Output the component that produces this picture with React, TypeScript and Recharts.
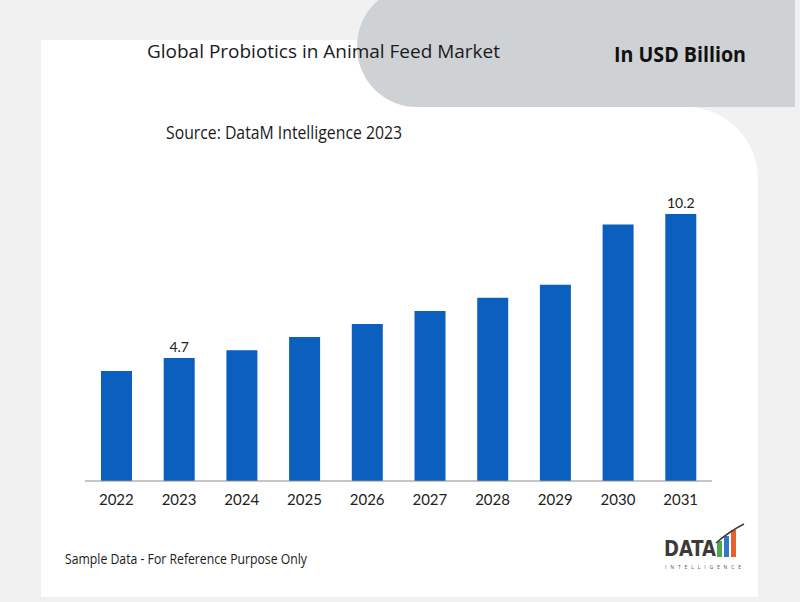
// Global Probiotics in Animal Feed Market: bar chart on a card with a
// grey pill header, recreated with Recharts.
import { Bar, BarChart, LabelList, XAxis, YAxis } from "recharts";

const years = ["2022", "2023", "2024", "2025", "2026", "2027", "2028", "2029", "2030", "2031"];
const values = [4.2, 4.7, 5.0, 5.5, 6.0, 6.5, 7.0, 7.5, 9.8, 10.2];
const labelled = ["2023", "2031"];

const BLUE = "#0B5FBF";
const BG = "#F1F1F1";
const PILL = "#CFD2D5";
const TICK_FONT = "Lato, 'Noto Sans', sans-serif";
const TEXT_FONT = "'Open Sans', 'Noto Sans', sans-serif";

const rows = years.map((year, i) => ({ year, value: values[i] }));

// only a couple of bars carry a value label
function TopLabel(props: any) {
  const { x, y, width, value, index } = props;
  if (!labelled.includes(years[index])) return null;
  return (
    <text
      x={x + width / 2} y={y - 6} textAnchor="middle"
      fill="#222" fontSize={14} fontFamily={TICK_FONT}
    >
      {value.toFixed(1)}
    </text>
  );
}

function Logo() {
  return (
    <svg width={100} height={52} style={{ position: "absolute", left: 660, top: 520 }}>
      <text x={4} y={36} fontSize={22} fontWeight={700} fill="#3b3b3b"
        fontFamily="'Liberation Sans Narrow', 'DejaVu Sans Condensed', sans-serif"
        textLength={52} lengthAdjust="spacingAndGlyphs">DATA</text>
      <rect x={57} y={21} width={5} height={16} fill="#4FA84A" />
      <rect x={64} y={16} width={5} height={21} fill="#2E79C7" />
      <rect x={71} y={10} width={5} height={27} fill="#E8602C" />
      <path d="M56 23 Q70 11 84 4" stroke="#3b3b3b" strokeWidth={1.5} fill="none" />
      <text x={5} y={49} fontSize={5} fill="#555" fontFamily={TEXT_FONT}
        textLength={76} lengthAdjust="spacing">INTELLIGENCE</text>
    </svg>
  );
}

export default function App() {
  return (
    <div style={{ position: "absolute", left: 0, top: 0, width: 800, height: 602, background: BG, overflow: "hidden" }}>
      {/* white card, upper strip + lower body with rounded corner */}
      <div style={{ position: "absolute", left: 41, top: 40, width: 400, height: 80, background: "#fff" }} />
      <div style={{ position: "absolute", left: 41, top: 107, width: 717, height: 490, background: "#fff", borderTopRightRadius: 72 }} />
      {/* grey pill */}
      <div style={{ position: "absolute", left: 357, top: -14, width: 438, height: 121, background: PILL, borderRadius: "60px 0 0 60px" }} />

      <svg width={800} height={602} style={{ position: "absolute", left: 0, top: 0 }}>
        <text x={147} y={58} fontSize={19} fill="#1a1a1a" fontFamily={TEXT_FONT}
          textLength={353} lengthAdjust="spacingAndGlyphs">Global Probiotics in Animal Feed Market</text>
        <text x={614} y={62} fontSize={21} fontWeight={700} fill="#111" fontFamily={TEXT_FONT}
          textLength={132} lengthAdjust="spacingAndGlyphs">In USD Billion</text>
        <text x={166} y={139} fontSize={18} fill="#1a1a1a" fontFamily={TEXT_FONT}
          textLength={236} lengthAdjust="spacingAndGlyphs">Source: DataM Intelligence 2023</text>
        <text x={65} y={564} fontSize={14} fill="#1a1a1a" fontFamily={TEXT_FONT}
          textLength={242} lengthAdjust="spacingAndGlyphs">Sample Data - For Reference Purpose Only</text>
      </svg>

      <div style={{ position: "absolute", left: 85, top: 167 }}>
        <BarChart width={627} height={354} data={rows} margin={{ top: 0, right: 0, bottom: 0, left: 0 }} barCategoryGap="25%">
          <XAxis
            dataKey="year" height={40} tickLine={false} tickMargin={7}
            axisLine={{ stroke: "#8C8C8C", strokeWidth: 1 }}
            tick={{ fill: "#222", fontSize: 15, fontFamily: TICK_FONT }}
            interval={0}
          />
          <YAxis hide domain={[0, 12]} />
          <Bar dataKey="value" fill={BLUE} barSize={31} isAnimationActive={false}>
            <LabelList dataKey="value" content={<TopLabel />} />
          </Bar>
        </BarChart>
      </div>

      <Logo />
    </div>
  );
}
